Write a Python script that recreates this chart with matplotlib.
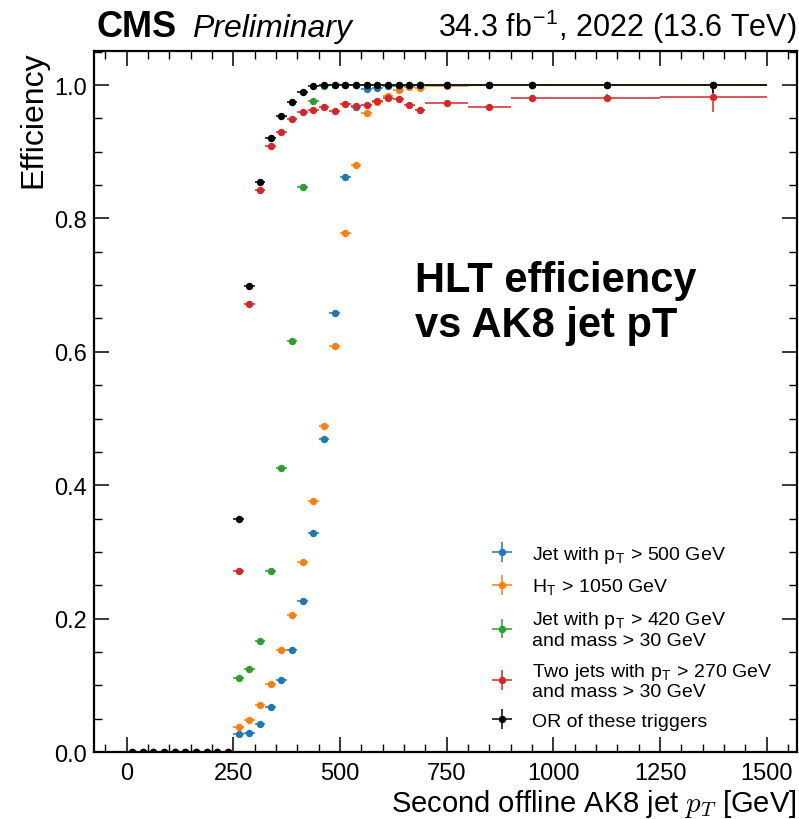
import numpy as np
import matplotlib
matplotlib.use("Agg")
import matplotlib.pyplot as plt
from matplotlib.ticker import MultipleLocator

plt.rcParams['font.family'] = ['Liberation Sans', 'DejaVu Sans']
plt.rcParams['mathtext.fontset'] = 'cm'

# bin edges of the second AK8 jet pT [GeV]
edges = [0, 25, 50, 75, 100, 125, 150, 175, 200, 225, 250, 275, 300, 325, 350,
         375, 400, 425, 450, 475, 500, 525, 550, 575, 600, 625, 650, 675, 700,
         800, 900, 1000, 1250, 1500]

zeros = [0.0] * 10

eff_jet500 = zeros + [0.0265, 0.029, 0.0415, 0.0675, 0.1085, 0.1525, 0.227, 0.329,
                      0.470, 0.6575, 0.8625, 0.967, 0.994, 0.995, 0.998, 0.999,
                      0.999, 1.0, 1.0, 1.0, 1.0, 1.0, 1.0]
eff_ht1050 = zeros + [0.038, 0.048, 0.070, 0.1015, 0.1535, 0.206, 0.285, 0.3765,
                      0.489, 0.609, 0.7775, 0.8805, 0.958, 0.975, 0.984, 0.993,
                      0.997, 0.9955, 0.999, 1.0, 1.0, 1.0, 1.0]
eff_jet420m30 = zeros + [0.1115, 0.125, 0.167, 0.2715, 0.4255, 0.6165, 0.8465, 0.9765,
                         0.998, 1.0, 1.0, 1.0, 1.0, 1.0, 1.0, 1.0,
                         1.0, 1.0, 1.0, 1.0, 1.0, 1.0, 1.0]
eff_2jet270m30 = zeros + [0.2715, 0.671, 0.8425, 0.908, 0.930, 0.949, 0.959, 0.963,
                          0.9665, 0.9605, 0.9715, 0.969, 0.970, 0.9755, 0.980, 0.979,
                          0.970, 0.9625, 0.9725, 0.9675, 0.980, 0.980, 0.9815]
eff_or = zeros + [0.349, 0.699, 0.855, 0.921, 0.954, 0.974, 0.989, 0.999,
                  1.0, 1.0, 1.0, 1.0, 1.0, 1.0, 1.0, 1.0,
                  1.0, 1.0, 1.0, 1.0, 1.0, 1.0, 1.0]

# vertical errors (only visible in the last wide bins)
err_small = zeros + [0.0] * 23
err_2jet = zeros + [0.0] * 20 + [0.004, 0.006, 0.022]
err_or_low = zeros + [0.0] * 22 + [0.012]

labels = ["Jet with p$_\\mathregular{T}$ > 500 GeV",
          "H$_\\mathregular{T}$ > 1050 GeV",
          "Jet with p$_\\mathregular{T}$ > 420 GeV\nand mass > 30 GeV",
          "Two jets with p$_\\mathregular{T}$ > 270 GeV\nand mass > 30 GeV",
          "OR of these triggers"]
colors = ['#1f77b4', '#ff7f0e', '#2ca02c', '#d62728', 'black']

edges = np.array(edges, dtype=float)
centers = 0.5 * (edges[1:] + edges[:-1])
halfw = 0.5 * (edges[1:] - edges[:-1])

fig = plt.figure(figsize=(7.99, 8.2), dpi=100)
ax = fig.add_axes([0.1176, 0.0817, 0.8799, 0.8553])

series = [eff_jet500, eff_ht1050, eff_jet420m30, eff_2jet270m30, eff_or]
yerrs = [np.array(err_small), np.array(err_small), np.array(err_small),
         np.array(err_2jet),
         np.vstack([err_or_low, np.zeros(len(err_or_low))])]
for vals, err, col, lab in zip(series, yerrs, colors, labels):
    ax.errorbar(centers, vals, xerr=halfw, yerr=err, fmt='o', color=col,
                markersize=4.3, elinewidth=1.1, capsize=0, label=lab)

ax.set_xlim(-77, 1571)
ax.set_ylim(0, 1.0515)
ax.xaxis.set_major_locator(MultipleLocator(250))
ax.xaxis.set_minor_locator(MultipleLocator(50))
ax.yaxis.set_major_locator(MultipleLocator(0.2))
ax.yaxis.set_minor_locator(MultipleLocator(0.05))
ax.tick_params(which='both', direction='in', top=True, right=True, labelsize=17)
ax.tick_params(which='major', length=11, width=1.1)
ax.tick_params(which='minor', length=5.5, width=1.0)
ax.tick_params(axis='x', pad=7)
ax.tick_params(axis='y', pad=5)
for s in ax.spines.values():
    s.set_linewidth(1.6)

ax.set_xlabel("Second offline AK8 jet $p_T$ [GeV]", fontsize=21, loc='right',
              labelpad=2)
ax.set_ylabel("Efficiency", fontsize=23, loc='top')

ax.text(0.004, 1.021, "CMS", transform=ax.transAxes, fontsize=26,
        fontweight='bold', ha='left', va='baseline')
ax.text(0.139, 1.021, "Preliminary", transform=ax.transAxes, fontsize=23,
        fontstyle='italic', ha='left', va='baseline')
ax.text(1.0, 1.021, "34.3 fb$^{\\mathregular{-1}}$, 2022 (13.6 TeV)",
        transform=ax.transAxes, fontsize=22, ha='right', va='baseline')

fig.text(415 / 799, 1 - 261 / 820, "HLT efficiency\nvs AK8 jet pT",
         fontsize=30, fontweight='bold', ha='left', va='top', linespacing=1.15)

leg = ax.legend(loc='lower right', fontsize=14, frameon=False,
                bbox_to_anchor=(0.99, 0.007), handlelength=1.1,
                handletextpad=1.0, labelspacing=0.62)
for t in leg.get_texts():
    t.set_linespacing(1.1)

fig.savefig("out.png", dpi=100)
